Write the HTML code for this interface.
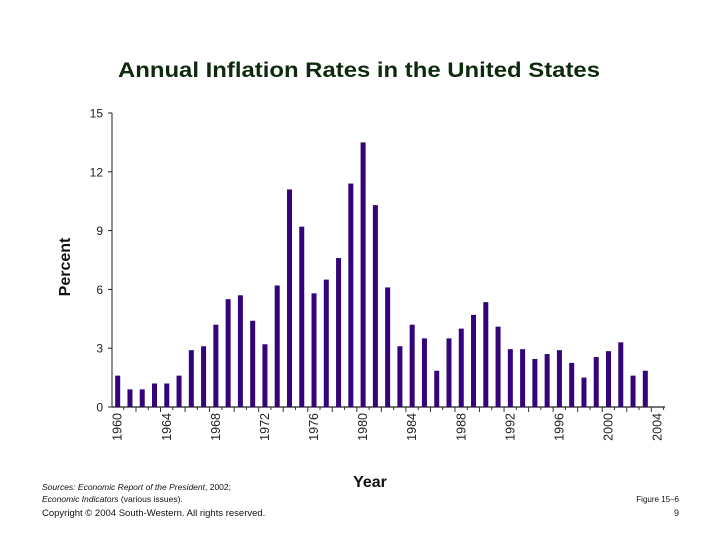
<!DOCTYPE html>
<html><head><meta charset="utf-8"><style>
body{margin:0;background:#fff;}
svg{display:block;font-family:"Liberation Sans",sans-serif;}
</style></head><body>
<svg id="c" width="720" height="540" viewBox="0 0 720 540">
<text x="118" y="77" font-size="21" font-weight="bold" fill="#0d2a0d" textLength="482" lengthAdjust="spacingAndGlyphs">Annual Inflation Rates in the United States</text>
<text transform="translate(70,267) rotate(-90)" text-anchor="middle" font-size="16" font-weight="bold" fill="#111">Percent</text>
<text x="370" y="487" text-anchor="middle" font-size="16" font-weight="bold" fill="#111">Year</text>
<text x="42" y="490" font-size="8.5" font-style="italic" fill="#111">Sources: Economic Report of the President<tspan font-style="normal">, 2002;</tspan></text>
<text x="42" y="502" font-size="8.5" font-style="italic" fill="#111">Economic Indicators<tspan font-style="normal"> (various issues).</tspan></text>
<text x="42" y="516" font-size="9.5" fill="#111">Copyright © 2004 South-Western. All rights reserved.</text>
<text x="679" y="502" text-anchor="end" font-size="8" fill="#111">Figure 15–6</text>
<text x="679" y="516" text-anchor="end" font-size="9" fill="#111">9</text>
<g id="plot"></g>
</svg>
<script>
const years = [];
for (let y = 1960; y <= 2003; y++) years.push(y);
const rates = [1.6,0.9,0.9,1.2,1.2,1.6,2.9,3.1,4.2,5.5,5.7,4.4,3.2,6.2,11.1,9.2,5.8,6.5,7.6,11.4,13.5,10.3,6.1,3.1,4.2,3.5,1.85,3.5,4.0,4.7,5.35,4.1,2.95,2.95,2.45,2.7,2.9,2.25,1.5,2.55,2.85,3.3,1.6,1.85];
const yTicks = [0,3,6,9,12,15];
const xLabelYears = [1960,1964,1968,1972,1976,1980,1984,1988,1992,1996,2000,2004];

const NS = "http://www.w3.org/2000/svg";
const g = document.getElementById('plot');
const x0 = 117.7, pxYear = 12.27, yZero = 407, pxUnit = 19.6;
const xs = yr => x0 + (yr - 1960) * pxYear;
const ys = v => yZero - v * pxUnit;
function mk(tag, attrs){const e=document.createElementNS(NS,tag);for(const k in attrs)e.setAttribute(k,attrs[k]);g.appendChild(e);return e;}

let e = mk('line',{x1:112,y1:ys(15),x2:112,y2:yZero,stroke:'#222','stroke-width':1});


e = mk('line',{x1:112,y1:yZero,x2:665,y2:yZero,stroke:'#222','stroke-width':1.3});



yTicks.forEach(t=>{
  let l = mk('line',{x1:108,y1:ys(t),x2:112,y2:ys(t),stroke:'#222'});
  
  
  let tx = mk('text',{x:103,y:ys(t)+4.5,'text-anchor':'end','font-size':12,fill:'#222'});
  tx.textContent = t;
  
  
});
for (let yr=1960; yr<=2004; yr++){
  const ex = xs(yr)+6;
  let l = mk('line',{x1:ex,y1:yZero,x2:ex,y2:yZero+(yr%2?5:3),stroke:'#333'});
  
  
}
xLabelYears.forEach(yr=>{
  let tx = mk('text',{transform:`translate(${xs(yr)+4},${yZero+6}) rotate(-90)`,'text-anchor':'end','font-size':12.5,fill:'#222'});
  tx.textContent = yr;
  
  
});
years.forEach((yr,i)=>{
  let r = mk('rect',{x:xs(yr)-2.5,y:ys(rates[i]),width:5,height:rates[i]*pxUnit,fill:'#33047a'});
  
  
});
</script>
</body></html>
